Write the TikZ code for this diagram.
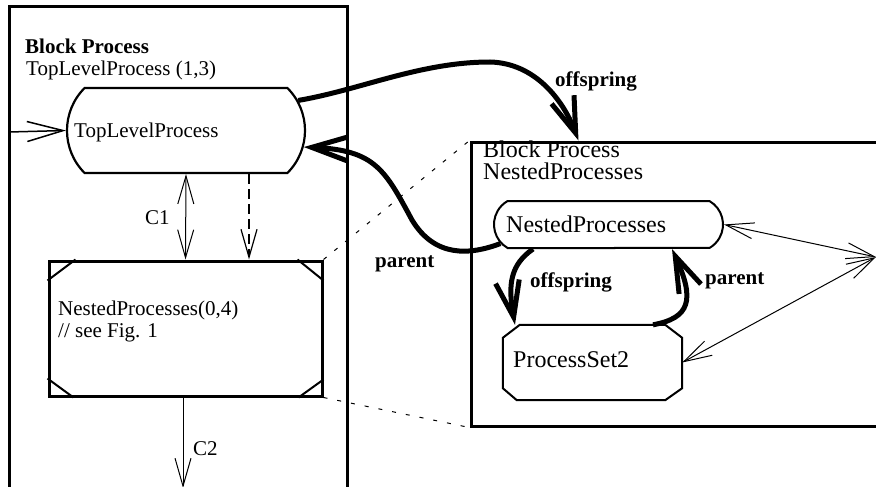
\documentclass[tikz,border=0pt]{standalone}
\usepackage{fontspec}
\setmainfont{Liberation Serif}
\usetikzlibrary{arrows.meta,shapes.misc}

\begin{document}
\begin{tikzpicture}[x=1pt,y=-1pt,
  frame/.style={draw, rectangle, line width=3pt, inner sep=0pt},
  procnode/.style={draw, rounded rectangle, line width=2.2pt, inner sep=0pt},
  labelsmall/.style={inner sep=0pt, anchor=base west, font=\fontsize{21}{23}\selectfont},
  labelbig/.style={inner sep=0pt, anchor=base west, font=\fontsize{24}{20}\selectfont},
  thinarrow/.style={line width=1pt, {Straight Barb[length=28pt,width=16pt]}-{Straight Barb[length=28pt,width=16pt]}},
  thickarrow/.style={line width=5pt, -{Straight Barb[length=36pt,width=24pt]}},
  dotline/.style={line width=1pt, dash pattern=on 4pt off 10pt},
]
\useasboundingbox (0,0) rectangle (876,487);
\clip (0,0) rectangle (876,487);

% outer blocks
\node[frame, minimum width=338pt, minimum height=513pt] (lblk) at (178,263.5) {};
\node[frame, minimum width=420pt, minimum height=284pt] (rblk) at (681,284) {};

% left block contents
\node[labelsmall] (ltitle) at (25,54) {\bfseries Block Process};
\node[labelsmall] (lsub) at (26,76) {TopLevelProcess (1,3)};

\node[procnode, rounded rectangle arc length=90, minimum width=238pt, minimum height=85pt] (top) at (186,130.5) {};
\node[labelsmall] (toptext) at (74,137) {TopLevelProcess};

\node[frame, minimum width=273pt, minimum height=135pt] (np) at (185.5,328.5) {};
\draw[line width=2pt] ([yshift=-21pt]np.north west) -- ([xshift=28pt]np.north west);
\draw[line width=2pt] ([xshift=-26pt]np.north east) -- ([yshift=-21pt]np.north east);
\draw[line width=2pt] ([yshift=19pt]np.south west) -- ([xshift=26pt]np.south west);
\draw[line width=2pt] ([xshift=-25pt]np.south east) -- ([yshift=18pt]np.south east);
\node[labelsmall] (nptext1) at (58,315) {NestedProcesses(0,4)};
\node[labelsmall] (nptext2) at (58,337) {// see Fig. 1};

% channels of the left block
\coordinate (inlet) at (9,132);
\draw[line width=1.5pt, -{Straight Barb[length=36pt,width=20pt]}] (inlet) -- (top.west);
\draw[thinarrow] (top.south) -- (np.north);
\node[labelsmall] (c1) at (145,224) {C1};
\draw[line width=1.2pt, dash pattern=on 10pt off 5pt, -{Straight Barb[length=28pt,width=16pt]}]
  ([xshift=63pt]top.south) -- ([xshift=63.5pt]np.north);
\coordinate (c2end) at (183,488);
\draw[line width=1pt, -{Straight Barb[length=28pt,width=16pt]}] ([xshift=-2.5pt]np.south) -- (c2end);
\node[labelsmall] (c2) at (193,455) {C2};

% right block contents
\node[labelbig] (rtitle1) at (483,157) {Block Process};
\node[labelbig] (rtitle2) at (483,179) {NestedProcesses};

\node[procnode, line width=2pt, rounded rectangle arc length=120, minimum width=229pt, minimum height=47pt] (rnp) at (608.5,224.5) {};
\node[labelbig] (rnptext) at (506,232) {NestedProcesses};

% octagonal process set box
\node[rectangle, inner sep=0pt, minimum width=179pt, minimum height=75pt] (ps2) at (592.5,362.5) {};
\draw[line width=2pt, line join=miter]
  ([xshift=17pt]ps2.north west) -- ([xshift=-17pt]ps2.north east)
  -- ([yshift=-13pt]ps2.north east) -- ([yshift=12pt]ps2.south east)
  -- ([xshift=-17pt]ps2.south east) -- ([xshift=14pt]ps2.south west)
  -- ([yshift=12pt]ps2.south west) -- ([yshift=-13pt]ps2.north west) -- cycle;
\node[labelbig] (ps2text) at (513,367) {ProcessSet2};

\coordinate (hub) at (876,257);
\draw[thinarrow] (rnp.east) -- (hub);
\draw[thinarrow] (ps2.east) -- (hub);

% zoom lines from the nested box to its expansion
\draw[dotline] (np.north east) -- (rblk.north west);
\draw[dotline] (np.south east) -- (rblk.south west);

% offspring / parent links
\draw[thickarrow] (top.15) .. controls (360,90) and (420,62) .. (490,62)
  .. controls (535,63) and (563,100) .. ([xshift=109pt]rblk.north west);
\node[labelsmall] (off1) at (555,87) {\bfseries offspring};

\draw[thickarrow] (rnp.190) .. controls (470,255) and (435,258) .. (412,220)
  .. controls (385,170) and (375,150) .. (top.-8);
\node[labelsmall] (par1) at (375,267) {\bfseries parent};

\draw[thickarrow] ([xshift=-75.5pt]rnp.south) .. controls (510,265) and (508,285) .. ([xshift=-77.5pt]ps2.north);
\node[labelsmall] (off2) at (530,287) {\bfseries offspring};

\draw[thickarrow] ([xshift=60.5pt]ps2.north) .. controls (690,318) and (695,300) .. ([xshift=63.5pt]rnp.south);
\node[labelsmall] (par2) at (705,284) {\bfseries parent};
\end{tikzpicture}
\end{document}
